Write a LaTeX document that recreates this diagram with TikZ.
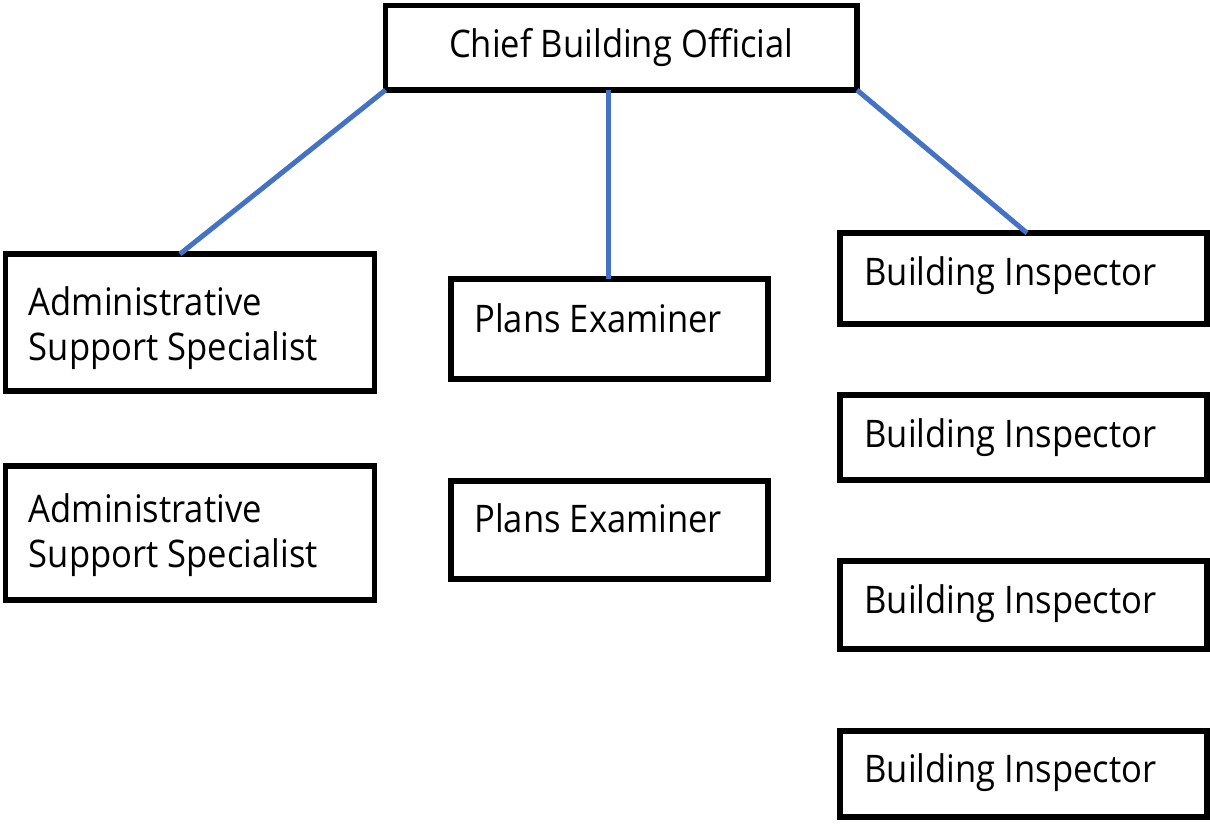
\documentclass[tikz,border=0pt]{standalone}
\usepackage{fontspec}
\setmainfont[FakeStretch=0.91]{Open Sans}
\usepackage{tikz}
\definecolor{linkblue}{HTML}{4472C4}

\tikzset{
  orgbox/.style={draw=black, line width=2.75pt, inner sep=0pt, outer sep=0pt},
  boxtext/.style={inner sep=0pt, align=left, font=\fontsize{19}{22.5}\selectfont},
  link/.style={draw=linkblue, line width=2.5pt}
}

\begin{document}
\begin{tikzpicture}[x=0.5pt, y=-0.5pt]

\useasboundingbox (0,0) rectangle (1210,824);

% top
\node [orgbox, minimum width=235.75pt, minimum height=42.25pt] (chief) at (621.25,47.75) {};
\node [boxtext, anchor=base] (chieft) at ([yshift=-26pt]chief.north) {Chief Building Official};

% left column (base = last line)
\node [orgbox, minimum width=184.5pt, minimum height=68.5pt] (adm1) at (190,322.5) {};
\node [boxtext, anchor=base west] (adm1t) at ([xshift=11.5pt, yshift=-53pt]adm1.north west) {Administrative\\Support Specialist};
\node [orgbox, minimum width=184.5pt, minimum height=67pt] (adm2) at (190,533) {};
\node [boxtext, anchor=base west] (adm2t) at ([xshift=11.5pt, yshift=-50.5pt]adm2.north west) {Administrative\\Support Specialist};

% middle column
\node [orgbox, minimum width=158.5pt, minimum height=50pt] (pe1) at (609.5,329) {};
\node [boxtext, anchor=base west] (pe1t) at ([xshift=11.5pt, yshift=-26.5pt]pe1.north west) {Plans Examiner};
\node [orgbox, minimum width=158.5pt, minimum height=49pt] (pe2) at (609.5,530) {};
\node [boxtext, anchor=base west] (pe2t) at ([xshift=11.5pt, yshift=-25.5pt]pe2.north west) {Plans Examiner};

% right column
\node [orgbox, minimum width=183.5pt, minimum height=45.5pt] (bi1) at (1023.5,278.5) {};
\node [boxtext, anchor=base west] (bi1t) at ([xshift=12pt, yshift=-26pt]bi1.north west) {Building Inspector};
\node [orgbox, minimum width=183.5pt, minimum height=42.5pt] (bi2) at (1023.5,437.5) {};
\node [boxtext, anchor=base west] (bi2t) at ([xshift=12pt, yshift=-26pt]bi2.north west) {Building Inspector};
\node [orgbox, minimum width=183.5pt, minimum height=44pt] (bi3) at (1023.5,605) {};
\node [boxtext, anchor=base west] (bi3t) at ([xshift=12pt, yshift=-26pt]bi3.north west) {Building Inspector};
\node [orgbox, minimum width=183.5pt, minimum height=43pt] (bi4) at (1023.5,774) {};
\node [boxtext, anchor=base west] (bi4t) at ([xshift=12pt, yshift=-25.5pt]bi4.north west) {Building Inspector};

% links
\coordinate (petop) at ([xshift=-0.75pt]pe1.north);
\draw [link] (chief.south west) -- ([xshift=-5pt]adm1.north);
\draw [link] (petop |- chief.south) -- (petop);
\draw [link] (chief.south east) -- ([xshift=1.75pt]bi1.north);

\end{tikzpicture}
\end{document}
